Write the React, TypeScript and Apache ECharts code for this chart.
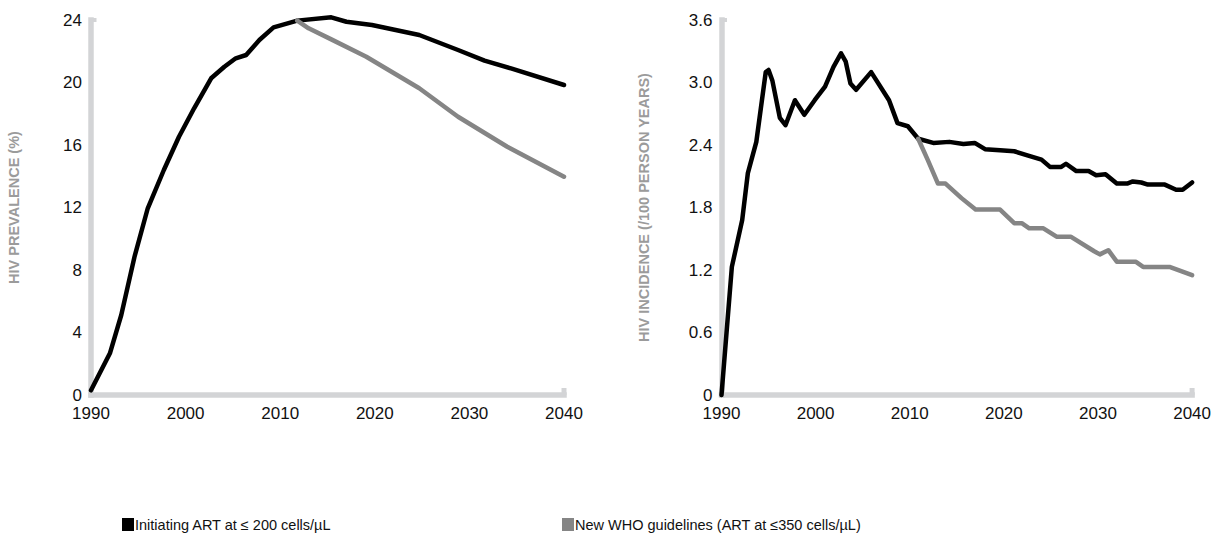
import React, { useEffect, useRef } from "react";
import * as echarts from "echarts";

const NAME_A = "Initiating ART at \u2264 200 cells/\u00b5L";
const NAME_B = "New WHO guidelines (ART at \u2264350 cells/\u00b5L)";

const xTicks = [1990, 2000, 2010, 2020, 2030, 2040];

// Left panel: HIV prevalence (%)
const prevAYears = [1990, 1992, 1993.2, 1994.6, 1996, 1997.7, 1999.3, 2000.9, 2002.7, 2004.1, 2005.3, 2006.4, 2007.8, 2009.3, 2011.8, 2015.4, 2017, 2019.7, 2024.7, 2028.8, 2031.6, 2034.4, 2040];
const prevAValues = [0.3, 2.67, 5.12, 8.85, 11.95, 14.4, 16.53, 18.35, 20.27, 21.01, 21.55, 21.76, 22.72, 23.53, 23.96, 24.17, 23.89, 23.68, 23.04, 22.08, 21.4, 20.9, 19.84];
const prevBYears = [2011.8, 2013, 2015.4, 2019.1, 2024.7, 2028.8, 2034, 2040];
const prevBValues = [23.96, 23.47, 22.76, 21.65, 19.63, 17.81, 15.89, 13.97];

// Right panel: HIV incidence (/100 person years)
const incAYears = [1990, 1991.1, 1992.2, 1992.8, 1993.7, 1994.7, 1995, 1995.4, 1996.2, 1996.8, 1997.8, 1998.8, 1999.9, 2001, 2001.9, 2002.7, 2003.2, 2003.7, 2004.3, 2005.9, 2007.8, 2008.7, 2009.8, 2010.9, 2012.5, 2014.2, 2015.7, 2016.9, 2018, 2019.6, 2021.1, 2022.5, 2024, 2024.9, 2026.1, 2026.6, 2027.7, 2029, 2029.8, 2030.8, 2032, 2033.1, 2033.7, 2034.6, 2035.3, 2037.1, 2038.3, 2039, 2040];
const incAValues = [0, 1.23, 1.68, 2.13, 2.43, 3.1, 3.12, 3.02, 2.66, 2.59, 2.83, 2.69, 2.83, 2.96, 3.15, 3.28, 3.2, 2.99, 2.93, 3.1, 2.83, 2.61, 2.58, 2.46, 2.42, 2.43, 2.41, 2.42, 2.36, 2.35, 2.34, 2.3, 2.26, 2.19, 2.19, 2.22, 2.15, 2.15, 2.11, 2.12, 2.03, 2.03, 2.05, 2.04, 2.02, 2.02, 1.97, 1.97, 2.04];
const incBYears = [2010.9, 2011.9, 2013, 2013.8, 2015.5, 2017, 2019.6, 2021.1, 2021.9, 2022.7, 2024.2, 2025.6, 2027.1, 2029.6, 2030.2, 2031.1, 2032, 2034, 2034.8, 2037.6, 2040];
const incBValues = [2.46, 2.26, 2.03, 2.03, 1.89, 1.78, 1.78, 1.65, 1.65, 1.6, 1.6, 1.52, 1.52, 1.38, 1.35, 1.39, 1.28, 1.28, 1.23, 1.23, 1.15];

const prevTicks = [0, 4, 8, 12, 16, 20, 24];
const incTicks = [0, 0.6, 1.2, 1.8, 2.4, 3.0, 3.6];

const zip = (xs: number[], ys: number[]) => xs.map((x, i) => [x, ys[i]]);

const AXIS_GRAY = "#d3d4d6";
const FONT = "'Liberation Sans', Arial, Helvetica, sans-serif";

export default function App() {
  const ref = useRef<HTMLDivElement>(null);
  useEffect(() => {
    if (!ref.current) return;
    const chart = echarts.init(ref.current, null, { renderer: "svg" });

    const xAxisBase = (gridIndex: number) => ({
      type: "value",
      gridIndex,
      min: xTicks[0],
      max: xTicks[xTicks.length - 1],
      interval: 10,
      axisLine: { show: true, lineStyle: { color: AXIS_GRAY, width: 5.5, cap: "square" } },
      axisTick: { show: false },
      splitLine: { show: false },
      axisLabel: { color: "#111", fontSize: 17, fontFamily: FONT, margin: 10, formatter: (v: number) => String(v) },
    });

    const yAxisBase = (gridIndex: number, ticks: number[], name: string, fmt: (v: number) => string) => ({
      type: "value",
      gridIndex,
      min: ticks[0],
      max: ticks[ticks.length - 1],
      interval: ticks[1] - ticks[0],
      name,
      nameLocation: "middle",
      nameGap: 70,
      nameTextStyle: { color: "#9b9b9b", fontSize: 14.5, fontWeight: "bold", fontFamily: FONT },
      axisLine: { show: true, lineStyle: { color: AXIS_GRAY, width: 5.5, cap: "square" } },
      axisTick: { show: false },
      splitLine: { show: false },
      axisLabel: { color: "#111", fontSize: 17, fontFamily: FONT, margin: 9, formatter: fmt },
    });

    const capSeries = (idx: number, yMax: number) => ({
      type: "custom",
      xAxisIndex: idx,
      yAxisIndex: idx,
      silent: true,
      clip: false,
      z: 1,
      data: [
        [xTicks[0], yMax, 0],
        [xTicks[xTicks.length - 1], 0, 1],
      ],
      renderItem: (params: any, api: any) => {
        const p = api.coord([api.value(0), api.value(1)]);
        if (api.value(2) === 0) {
          return { type: "rect", shape: { x: p[0], y: p[1] - 2, width: 5.5, height: 4 }, style: { fill: AXIS_GRAY } };
        }
        return { type: "rect", shape: { x: p[0] - 2.5, y: p[1] - 7, width: 5, height: 7 }, style: { fill: AXIS_GRAY } };
      },
    });

    const line = (name: string, color: string, idx: number, data: number[][]) => ({
      type: "line",
      name,
      xAxisIndex: idx,
      yAxisIndex: idx,
      data,
      showSymbol: false,
      symbol: "none",
      clip: false,
      color,
      lineStyle: { color, width: 4.5, cap: "round", join: "round" },
      itemStyle: { color },
      z: 3,
    });

    const legendBase = (name: string, left: number) => ({
      data: [name],
      left,
      top: 512,
      icon: "rect",
      itemWidth: 12,
      itemHeight: 13,
      itemStyle: { borderWidth: 0 },
      textStyle: { fontSize: 14.5, color: "#111", fontFamily: FONT, padding: [0, 0, 0, -4] },
      selectedMode: false,
    });

    chart.setOption({
      animation: false,
      backgroundColor: "#ffffff",
      textStyle: { fontFamily: FONT },
      grid: [
        { left: 91, right: 650, top: 20, bottom: 143 },
        { left: 721.5, right: 20, top: 20, bottom: 143 },
      ],
      legend: [legendBase(NAME_A, 117), legendBase(NAME_B, 557)],
      xAxis: [xAxisBase(0), xAxisBase(1)],
      yAxis: [
        yAxisBase(0, prevTicks, "HIV PREVALENCE (%)", (v: number) => String(v)),
        yAxisBase(1, incTicks, "HIV INCIDENCE (/100 PERSON YEARS)", (v: number) => (v === 0 ? "0" : v.toFixed(1))),
      ],
      series: [
        capSeries(0, prevTicks[prevTicks.length - 1]),
        capSeries(1, incTicks[incTicks.length - 1]),
        line(NAME_A, "#000000", 0, zip(prevAYears, prevAValues)),
        line(NAME_B, "#858585", 0, zip(prevBYears, prevBValues)),
        line(NAME_A, "#000000", 1, zip(incAYears, incAValues)),
        line(NAME_B, "#858585", 1, zip(incBYears, incBValues)),
      ],
    });

    return () => chart.dispose();
  }, []);

  return (
    <div
      ref={ref}
      style={{ position: "absolute", left: 0, top: 0, width: 1214, height: 538, background: "#fff" }}
    />
  );
}
